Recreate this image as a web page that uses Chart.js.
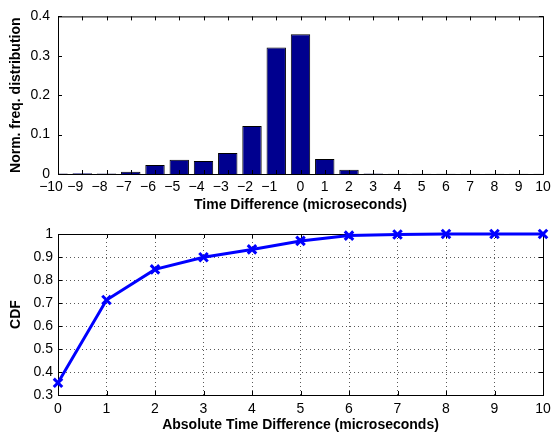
<!DOCTYPE html>
<html>
<head>
<meta charset="utf-8">
<script src="https://cdn.jsdelivr.net/npm/chart.js@4/dist/chart.umd.min.js"></script>
<style>
  html, body { margin: 0; padding: 0; background: #fff; }
  .panel { position: absolute; left: 0; width: 555px; }
</style>
</head>
<body>
<div class="panel" style="top:0;height:215px"><canvas id="histChart" width="555" height="215"></canvas></div>
<div class="panel" style="top:215px;height:219px"><canvas id="cdfChart" width="555" height="219"></canvas></div>
<script>
// top panel: normalised frequency of time differences
const timeDiffs = [-10, -9, -8, -7, -6, -5, -4, -3, -2, -1, 0, 1, 2, 3, 4, 5, 6, 7, 8, 9, 10];
const normFreq = [0.001, 0.002, 0.001, 0.006, 0.023, 0.036, 0.033, 0.053, 0.122, 0.321, 0.355, 0.038, 0.011, 0.001, 0.0005, 0.0005, 0.0005, 0.0005, 0.0005, 0.0005, 0.0005];

// bottom panel: CDF of absolute time difference
const absDiffs = [0, 1, 2, 3, 4, 5, 6, 7, 8, 9, 10];
const cdfValues = [0.353, 0.713, 0.846, 0.899, 0.933, 0.970, 0.993, 0.998, 1.0, 1.0, 1.0];

const FONT = "'Liberation Sans', Arial, Helvetica, sans-serif";
Chart.defaults.font.family = FONT;
Chart.defaults.color = '#000';

function fmtDiff(v) {
    return v < 0 ? '\u2212' + (-v) + '\u2003' : String(v);
}

function fmtFrac(v) {
    return String(Number(v.toFixed(1)));
}

// matlab style box with inward tick marks
const axesBox = {
    id: 'axesBox',
    draw(chart) {
        const { ctx, chartArea: a, scales: { x, y } } = chart;
        const len = 4;
        ctx.save();
        ctx.strokeStyle = '#000';
        ctx.lineWidth = 1;
        ctx.beginPath();
        x.ticks.forEach((t, i) => {
            const px = Math.round(x.getPixelForTick(i)) + 0.5;
            ctx.moveTo(px, a.bottom); ctx.lineTo(px, a.bottom - len);
            ctx.moveTo(px, a.top); ctx.lineTo(px, a.top + len);
        });
        y.ticks.forEach((t, i) => {
            const py = Math.round(y.getPixelForTick(i)) + 0.5;
            ctx.moveTo(a.left, py); ctx.lineTo(a.left + len, py);
            ctx.moveTo(a.right, py); ctx.lineTo(a.right - len, py);
        });
        ctx.stroke();
        ctx.strokeRect(a.left + 0.5, a.top + 0.5, a.width, a.height);
        ctx.restore();
    },
    beforeDatasetsDraw(chart, args, opts) { if (opts.under) this.draw(chart); },
    afterDatasetsDraw(chart, args, opts) { if (!opts.under) this.draw(chart); }
};

new Chart(document.getElementById('histChart'), {
    type: 'bar',
    data: {
        labels: timeDiffs,
        datasets: [{
            data: normFreq,
            backgroundColor: '#00008f',
            borderColor: '#000',
            borderWidth: 1,
            categoryPercentage: 1.0,
            barPercentage: 0.8
        }]
    },
    options: {
        responsive: false,
        animation: false,
        layout: { padding: { top: 13, right: 12, left: 0, bottom: 0 } },
        plugins: { legend: { display: false }, tooltip: { enabled: false }, axesBox: { under: false } },
        scales: {
            x: {
                offset: false,
                grid: { display: false, drawTicks: false },
                border: { display: false },
                ticks: {
                    autoSkip: false, maxRotation: 0, minRotation: 0, padding: 5,
                    font: { size: 14 },
                    callback: function (value, index) { return fmtDiff(timeDiffs[index]); }
                },
                title: { display: true, text: 'Time Difference (microseconds)', font: { size: 14, weight: 'bold' }, padding: { top: 0, bottom: 1.5 } },
                afterFit: s => { s.height = 41; s.paddingLeft = 0; s.paddingRight = 0; }
            },
            y: {
                min: 0, max: 0.4,
                grid: { display: false, drawTicks: false },
                border: { display: false },
                ticks: { stepSize: 0.1, padding: 8, font: { size: 14 }, callback: fmtFrac },
                title: { display: true, text: 'Norm. freq. distribution', font: { size: 14, weight: 'bold' }, padding: { top: 7.5, bottom: 0 } },
                afterFit: s => { s.width = 58; }
            }
        }
    },
    plugins: [axesBox]
});

new Chart(document.getElementById('cdfChart'), {
    type: 'line',
    data: {
        datasets: [{
            data: absDiffs.map((d, i) => ({ x: d, y: cdfValues[i] })),
            borderColor: '#0000ff',
            backgroundColor: '#0000ff',
            borderWidth: 3,
            pointStyle: 'crossRot',
            pointRadius: 6,
            pointBorderWidth: 3,
            fill: false,
            tension: 0,
            clip: false
        }]
    },
    options: {
        responsive: false,
        animation: false,
        layout: { padding: { top: 19, right: 12, left: 0, bottom: 0 } },
        plugins: { legend: { display: false }, tooltip: { enabled: false }, axesBox: { under: true } },
        scales: {
            x: {
                type: 'linear', min: 0, max: 10,
                grid: { color: 'rgba(0,0,0,0.65)', drawTicks: false },
                border: { display: false, dash: [1, 3] },
                ticks: { stepSize: 1, padding: 6, maxRotation: 0, font: { size: 14 } },
                title: { display: true, text: 'Absolute Time Difference (microseconds)', font: { size: 14, weight: 'bold' }, padding: { top: 0, bottom: 0 } },
                afterFit: s => { s.height = 39; s.paddingLeft = 0; s.paddingRight = 0; }
            },
            y: {
                min: 0.3, max: 1,
                grid: { color: 'rgba(0,0,0,0.65)', drawTicks: false },
                border: { display: false, dash: [1, 3] },
                ticks: { stepSize: 0.1, padding: 5, font: { size: 14 }, callback: fmtFrac },
                title: { display: true, text: 'CDF', font: { size: 14, weight: 'bold' }, padding: { top: 7.5, bottom: 0 } },
                afterFit: s => { s.width = 58; }
            }
        }
    },
    plugins: [axesBox]
});
</script>
</body>
</html>
